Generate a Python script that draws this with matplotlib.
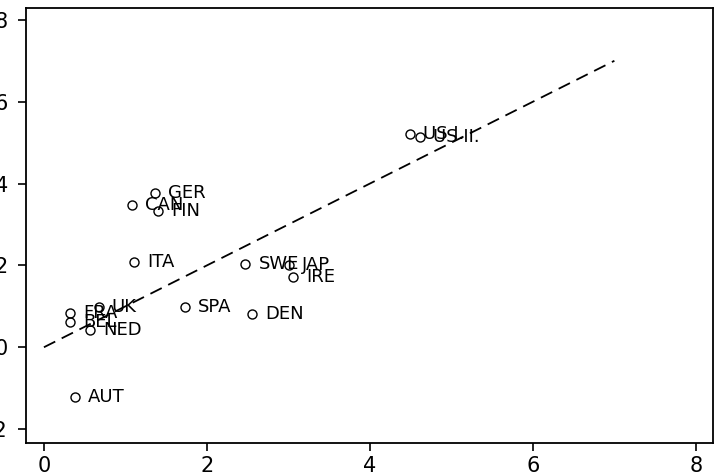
import numpy as np
import matplotlib.pyplot as plt

# 数据
countries = ['AUT', 'NED', 'BEL', 'FRA', 'UK', 'SPA', 'DEN', 'ITA', 'SWE', 'JAP',
             'IRE', 'GER', 'CAN', 'FIN', 'US I.', 'US II.']
x_vals = [0.38, 0.56, 0.32, 0.32, 0.67, 1.73, 2.55, 1.10, 2.47, 3.01,
          3.06, 1.36, 1.08, 1.40, 4.49, 4.61]
y_vals = [-1.22, 0.42, 0.61, 0.83, 0.98, 0.98, 0.81, 2.08, 2.03, 2.00,
          1.71, 3.77, 3.47, 3.33, 5.21, 5.13]
line_x = [0, 7]
line_y = [0, 7]
ticks = [0, 2, 4, 6, 8]
yticks = [-2, 0, 2, 4, 6, 8]

plt.rcParams['font.family'] = ['DejaVu Sans']

fig = plt.figure(figsize=(7.18, 4.76), dpi=100)
ax = fig.add_axes([26 / 718, 1 - 443 / 476, 687 / 718, 435 / 476])

ax.plot(line_x, line_y, color='black', lw=1.3, dashes=(7, 4))
ax.plot(x_vals, y_vals, 'o', mfc='none', mec='black', ms=6.5, mew=1.0)
for c, xv, yv in zip(countries, x_vals, y_vals):
    ax.annotate(c, (xv, yv), xytext=(9.5, 0), textcoords='offset points',
                ha='left', va='center', fontsize=13)

ax.set_xlim(-0.22, 8.21)
ax.set_ylim(-2.34, 8.29)
ax.set_xticks(ticks)
ax.set_yticks(yticks)
ax.tick_params(direction='out', length=6, width=1.2, labelsize=15, pad=3)
ax.tick_params(axis='y', pad=7)
for s in ax.spines.values():
    s.set_linewidth(1.3)

fig.savefig('out.png', dpi=100)
